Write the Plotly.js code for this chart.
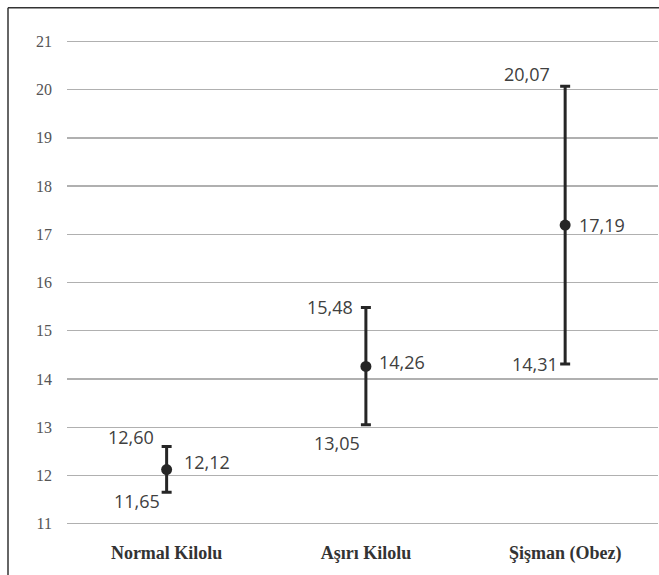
<!DOCTYPE html>
<html>
<head>
<meta charset="utf-8">
<script src="https://cdn.plot.ly/plotly-3.0.1.min.js"></script>
<style>html,body{margin:0;padding:0;background:#fff;}#chart{width:659px;height:575px;}</style>
</head>
<body>
<div id="chart"></div>
<script>
var categories = ["Normal Kilolu", "Aşırı Kilolu", "Şişman (Obez)"];
var meanValues = [12.12, 14.26, 17.19];
var upperValues = [12.60, 15.48, 20.07];
var lowerValues = [11.65, 13.05, 14.31];
var yTickValues = [11, 12, 13, 14, 15, 16, 17, 18, 19, 20, 21];

// label offsets (px) for annotations: [xshift, yshift]
var upperOffsets = [[-11, 9], [-11, 1], [-13, 12]];
var meanOffsets = [[15, 8], [11, 4], [12, 0]];
var lowerOffsets = [[-5, -9], [-4, -18], [-5, 0]];

var W = 659, H = 575;
var mL = 67, mR = 1, mT = 39.3, mB = 48.6;
var plotW = W - mL - mR, plotH = H - mT - mB;
function px2paperX(px) { return (px - mL) / plotW; }
function px2paperY(py) { return (H - mB - py) / plotH; }

function fmt(v) { return v.toFixed(2).replace('.', ','); }

var xIdx = categories.map(function (c, i) { return i; });

var trace = {
  type: 'scatter',
  mode: 'markers',
  x: xIdx,
  y: meanValues,
  marker: { size: 11, color: '#262626' },
  error_y: {
    type: 'data',
    symmetric: false,
    array: upperValues.map(function (u, i) { return u - meanValues[i]; }),
    arrayminus: lowerValues.map(function (l, i) { return meanValues[i] - l; }),
    color: '#262626',
    thickness: 3,
    width: 5
  },
  hoverinfo: 'none'
};

var labelFont = { family: 'Open Sans, Liberation Sans, sans-serif', size: 18, color: '#404040' };
var annotations = [];
xIdx.forEach(function (i) {
  annotations.push({ x: i, y: upperValues[i], xref: 'x', yref: 'y', text: fmt(upperValues[i]), showarrow: false,
    xanchor: 'right', yanchor: 'middle', xshift: upperOffsets[i][0], yshift: upperOffsets[i][1], font: labelFont });
  annotations.push({ x: i, y: meanValues[i], xref: 'x', yref: 'y', text: fmt(meanValues[i]), showarrow: false,
    xanchor: 'left', yanchor: 'middle', xshift: meanOffsets[i][0], yshift: meanOffsets[i][1], font: labelFont });
  annotations.push({ x: i, y: lowerValues[i], xref: 'x', yref: 'y', text: fmt(lowerValues[i]), showarrow: false,
    xanchor: 'right', yanchor: 'middle', xshift: lowerOffsets[i][0], yshift: lowerOffsets[i][1], font: labelFont });
});

var borderColor = '#333333';
var shapes = [
  { type: 'line', xref: 'paper', yref: 'paper', x0: px2paperX(8), x1: px2paperX(8), y0: px2paperY(8), y1: px2paperY(580),
    line: { color: borderColor, width: 1.5 } },
  { type: 'line', xref: 'paper', yref: 'paper', x0: px2paperX(8), x1: px2paperX(665), y0: px2paperY(8), y1: px2paperY(8),
    line: { color: borderColor, width: 1.5 } }
];

var layout = {
  width: W, height: H,
  margin: { l: mL, r: mR, t: mT, b: mB, pad: 0 },
  paper_bgcolor: '#ffffff',
  plot_bgcolor: '#ffffff',
  showlegend: false,
  xaxis: {
    range: [-0.5, 2.466],
    tickmode: 'array',
    tickvals: xIdx,
    ticktext: categories,
    showgrid: false,
    zeroline: false,
    showline: false,
    ticks: '',
    ticklabelstandoff: 14,
    tickfont: { family: 'Liberation Serif, Times New Roman, serif', size: 18, color: '#333333', weight: 'bold' },
    fixedrange: true
  },
  yaxis: {
    range: [10.95, 21.05],
    tickmode: 'array',
    tickvals: yTickValues,
    ticktext: yTickValues.map(String),
    showgrid: true,
    gridcolor: '#b0b0b0',
    gridwidth: 1.3,
    zeroline: false,
    showline: false,
    ticks: '',
    ticklabelstandoff: 14,
    tickfont: { family: 'Liberation Serif, Times New Roman, serif', size: 16, color: '#555555' },
    fixedrange: true
  },
  annotations: annotations,
  shapes: shapes
};

Plotly.newPlot('chart', [trace], layout, { displayModeBar: false, staticPlot: true });
</script>
</body>
</html>
